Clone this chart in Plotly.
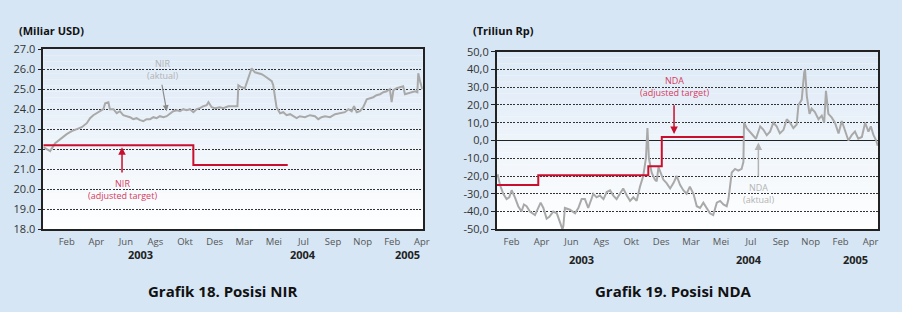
import plotly.graph_objects as go

FONT = "Open Sans, sans-serif"

month_labels = ["Feb", "Apr", "Jun", "Ags", "Okt", "Des", "Mar", "Mei", "Jul", "Sep", "Nop", "Feb", "Apr"]
year_labels = ["2003", "2004", "2005"]
nir_year_pos = [2.5, 8.0, 11.5]
nda_year_pos = [2.34, 7.94, 11.5]
nir_ticks = [18, 19, 20, 21, 22, 23, 24, 25, 26, 27]
nir_tick_text = ["18.0", "19.0", "20.0", "21.0", "22.0", "23.0", "24.0", "25.0", "26.0", "27.0"]
nda_ticks = [-50, -40, -30, -20, -10, 0, 10, 20, 30, 40, 50]
nda_tick_text = ["-50,0", "-40,0", "-30,0", "-20,0", "-10,0", "0,0", "10,0", "20,0", "30,0", "40,0", "50,0"]

# ---- NIR (Miliar USD) ----
nir_x = [-0.79, -0.68, -0.56, -0.39, -0.23, 0.00, 0.17, 0.34, 0.51, 0.68, 0.79, 0.90, 1.01, 1.13,
         1.24, 1.30, 1.41, 1.46, 1.58, 1.69, 1.80, 1.91, 2.03, 2.14, 2.25, 2.36, 2.48, 2.59, 2.70,
         2.82, 2.93, 3.04, 3.15, 3.27, 3.38, 3.49, 3.60, 3.72, 3.83, 3.94, 4.05, 4.17, 4.28, 4.39,
         4.50, 4.62, 4.73, 4.79, 4.90, 5.01, 5.18, 5.29, 5.46, 5.63, 5.77, 5.80, 5.91, 6.02, 6.10,
         6.19, 6.25, 6.36, 6.48, 6.59, 6.70, 6.81, 6.93, 6.98, 7.04, 7.09, 7.21, 7.32, 7.43, 7.55,
         7.66, 7.77, 7.88, 8.05, 8.22, 8.39, 8.50, 8.61, 8.73, 8.90, 9.07, 9.23, 9.40, 9.52, 9.63,
         9.71, 9.80, 9.91, 10.02, 10.14, 10.25, 10.36, 10.47, 10.59, 10.70, 10.81, 10.92, 10.98,
         11.04, 11.15, 11.26, 11.37, 11.43, 11.54, 11.66, 11.77, 11.85, 11.88, 11.94, 12.02]
nir_actual = [22.1, 22.0, 21.9, 22.3, 22.5, 22.75, 22.9, 23.0, 23.1, 23.3, 23.55, 23.7, 23.8, 23.9,
              24.0, 24.3, 24.35, 24.0, 24.0, 23.8, 23.9, 23.7, 23.65, 23.6, 23.5, 23.55, 23.45, 23.4,
              23.5, 23.5, 23.6, 23.55, 23.65, 23.6, 23.65, 23.8, 23.9, 23.95, 23.9, 24.0, 23.95, 24.0,
              23.85, 24.0, 24.05, 24.15, 24.2, 24.35, 24.1, 24.05, 24.1, 24.05, 24.15, 24.15, 24.15,
              25.2, 25.1, 25.05, 25.4, 25.8, 26.05, 25.85, 25.8, 25.75, 25.65, 25.55, 25.4, 25.2, 24.6,
              24.1, 23.8, 23.85, 23.7, 23.75, 23.65, 23.55, 23.65, 23.6, 23.7, 23.65, 23.5, 23.6, 23.65,
              23.6, 23.75, 23.8, 23.85, 24.0, 23.9, 24.15, 23.85, 23.9, 24.1, 24.5, 24.55, 24.6, 24.7,
              24.75, 24.85, 24.9, 25.0, 24.35, 24.95, 25.05, 25.1, 25.15, 24.75, 24.8, 24.85, 24.9,
              24.85, 25.8, 25.4, 25.0]
nir_target_x = [-0.79, 4.28, 4.28, 7.47]
nir_target = [22.2, 22.2, 21.2, 21.2]

# ---- NDA (Triliun Rp) ----
nda_x = [-0.47, -0.39, -0.28, -0.17, -0.08, 0.00, 0.11, 0.22, 0.33, 0.41, 0.50, 0.61, 0.78, 0.89,
         0.97, 1.06, 1.17, 1.26, 1.39, 1.51, 1.62, 1.70, 1.73, 1.78, 1.95, 2.12, 2.23, 2.34, 2.45,
         2.56, 2.73, 2.84, 2.95, 3.07, 3.18, 3.29, 3.40, 3.51, 3.62, 3.73, 3.85, 3.96, 4.07, 4.18,
         4.29, 4.40, 4.49, 4.54, 4.59, 4.68, 4.79, 4.85, 4.91, 4.98, 5.07, 5.18, 5.30, 5.41, 5.52,
         5.63, 5.74, 5.85, 5.96, 6.08, 6.19, 6.30, 6.41, 6.52, 6.63, 6.74, 6.86, 6.97, 7.08, 7.19,
         7.25, 7.36, 7.47, 7.58, 7.69, 7.75, 7.77, 7.86, 7.97, 8.08, 8.17, 8.31, 8.42, 8.53, 8.64,
         8.75, 8.86, 8.97, 9.09, 9.20, 9.31, 9.42, 9.53, 9.59, 9.70, 9.78, 9.81, 9.87, 9.96, 10.03,
         10.14, 10.26, 10.37, 10.45, 10.51, 10.59, 10.70, 10.81, 10.93, 11.04, 11.15, 11.26, 11.37,
         11.48, 11.59, 11.71, 11.82, 11.93, 12.01, 12.10, 12.19, 12.24]
nda_actual = [-19, -25, -30, -33, -32, -28, -32, -37, -40, -36, -37, -40, -42, -38,
              -35, -38, -44, -43, -40, -41, -46, -50, -48, -38, -39, -41, -38, -33, -33,
              -38, -30, -32, -31, -33, -29, -28, -31, -33, -30, -27, -31, -34, -32, -34,
              -26, -20, -10, 7, -10, -18, -22, -23, -15, -18, -22, -24, -27, -24, -20,
              -25, -28, -30, -26, -30, -37, -38, -35, -38, -41, -42, -35, -34, -36, -37,
              -33, -18, -16, -17, -16, -12, 10, 7, 5, 3, 1, 8, 6, 3, 5,
              10, 8, 4, 6, 12, 10, 7, 9, 20, 23, 38, 40, 25, 15, 18,
              16, 12, 14, 10, 28, 15, 13, 10, 4, 11, 5, 0, 3,
              5, 1, 2, 10, 5, 8, 3, 0, -3]
nda_target_x = [-0.5, 0.89, 0.89, 4.57, 4.57, 5.02, 5.02, 7.75]
nda_target = [-25, -25, -19.5, -19.5, -14.5, -14.5, 2, 2]

GRAY = "#a9a9a9"
RED = "#c8102e"
RED_TXT = "#d63a5e"
TXT_GRAY = "#b3b3b3"

fig = go.Figure()
fig.add_trace(go.Scatter(x=nir_x, y=nir_actual, mode="lines", line=dict(color=GRAY, width=2),
                         xaxis="x", yaxis="y", showlegend=False, hoverinfo="skip"))
fig.add_trace(go.Scatter(x=nir_target_x, y=nir_target, mode="lines", line=dict(color=RED, width=2),
                         xaxis="x", yaxis="y", showlegend=False, hoverinfo="skip"))
fig.add_trace(go.Scatter(x=nda_x, y=nda_actual, mode="lines", line=dict(color=GRAY, width=2),
                         xaxis="x2", yaxis="y2", showlegend=False, hoverinfo="skip"))
fig.add_trace(go.Scatter(x=nda_target_x, y=nda_target, mode="lines", line=dict(color=RED, width=2),
                         xaxis="x2", yaxis="y2", showlegend=False, hoverinfo="skip"))

W, H = 902, 312
xd1 = [43.3 / W, 422.7 / W]
yd1 = [1 - 229 / H, 1 - 49.3 / H]
xd2 = [496.7 / W, 878.3 / W]
yd2 = [1 - 229.3 / H, 1 - 51.7 / H]

axis_common = dict(showline=True, linecolor="#222222", linewidth=1.5, mirror=True, automargin=False)
tickfont_x = dict(family=FONT, size=9.5, color="#555555")
tickfont_y = dict(family=FONT, size=11, color="#333333")
GRIDDASH = "2px,1.3px"
GRIDCOLOR = "#333333"

fig.update_layout(
    template="none",
    width=W, height=H, margin=dict(l=0, r=0, t=0, b=0, autoexpand=False),
    paper_bgcolor="#d6e6f4", plot_bgcolor="#ffffff",
    xaxis=dict(domain=xd1, range=[-0.79, 12.03], tickvals=list(range(13)), ticktext=month_labels,
               showgrid=False, zeroline=False, ticks="", ticklabelstandoff=3, tickfont=tickfont_x,
               anchor="y", **axis_common),
    yaxis=dict(domain=yd1, range=[18, 27], tickvals=nir_ticks, ticktext=nir_tick_text, showgrid=True,
               gridcolor=GRIDCOLOR, griddash=GRIDDASH, gridwidth=1, zeroline=False,
               ticks="outside", ticklen=4, tickcolor="#222222", tickfont=tickfont_y, anchor="x", **axis_common),
    xaxis2=dict(domain=xd2, range=[-0.5, 12.26], tickvals=list(range(13)), ticktext=month_labels,
                showgrid=False, zeroline=False, ticks="", ticklabelstandoff=3, tickfont=tickfont_x,
                anchor="y2", **axis_common),
    yaxis2=dict(domain=yd2, range=[-50, 50], tickvals=nda_ticks, ticktext=nda_tick_text, showgrid=True,
                gridcolor=GRIDCOLOR, griddash=GRIDDASH, gridwidth=1, zeroline=True, zerolinecolor="#222222",
                zerolinewidth=1.2, ticks="outside", ticklen=4, tickcolor="#222222", tickfont=tickfont_y,
                anchor="x2", **axis_common),
)

# gradient backgrounds of plot areas
N = 30
for xr, yr in (("x domain", "y domain"), ("x2 domain", "y2 domain")):
    for i in range(N):
        t = (i + 0.5) / N
        r = int(round(255 + (220 - 255) * t))
        g = int(round(255 + (233 - 255) * t))
        b = int(round(255 + (246 - 255) * t))
        fig.add_shape(type="rect", xref=xr, yref=yr, x0=0, x1=1, y0=i / N, y1=(i + 1) / N,
                      fillcolor=f"rgb({r},{g},{b})", line=dict(width=0), layer="below")

ann = []
# unit labels
ann.append(dict(text="<b>(Miliar USD)</b>", x=17 / W, y=1 - 31 / H, xref="paper", yref="paper",
                xanchor="left", yanchor="middle", showarrow=False, font=dict(family=FONT, size=11, color="#111")))
ann.append(dict(text="<b>(Triliun Rp)</b>", x=471 / W, y=1 - 31 / H, xref="paper", yref="paper",
                xanchor="left", yanchor="middle", showarrow=False, font=dict(family=FONT, size=11, color="#111")))
# years
for lbl, xp in zip(year_labels, nir_year_pos):
    ann.append(dict(text=f"<b>{lbl}</b>", x=xp, y=1 - 254 / H, xref="x", yref="paper", showarrow=False,
                    xanchor="center", yanchor="middle", font=dict(family=FONT, size=11, color="#222")))
for lbl, xp in zip(year_labels, nda_year_pos):
    ann.append(dict(text=f"<b>{lbl}</b>", x=xp, y=1 - 259 / H, xref="x2", yref="paper", showarrow=False,
                    xanchor="center", yanchor="middle", font=dict(family=FONT, size=11, color="#222")))
# titles
ann.append(dict(text="<b>Grafik 18. Posisi NIR</b>", x=222 / W, y=1 - 291 / H, xref="paper", yref="paper",
                xanchor="center", yanchor="middle", showarrow=False, font=dict(family=FONT, size=15, color="#111")))
ann.append(dict(text="<b>Grafik 19. Posisi NDA</b>", x=673 / W, y=1 - 291 / H, xref="paper", yref="paper",
                xanchor="center", yanchor="middle", showarrow=False, font=dict(family=FONT, size=15, color="#111")))

small = dict(family=FONT, size=9)
# NIR aktual
ann.append(dict(text="NIR<br>(aktual)", x=3.25, y=26.0, xref="x", yref="y", showarrow=False,
                font=dict(color=TXT_GRAY, **small)))
ann.append(dict(text="", x=3.38, y=23.9, ax=3.21, ay=25.3, xref="x", yref="y", axref="x", ayref="y",
                showarrow=True, arrowhead=2, arrowsize=1, arrowwidth=1.2, arrowcolor="#8c8c8c"))
# NIR target
ann.append(dict(text="NIR<br>(adjusted target)", x=1.87, y=20.0, xref="x", yref="y", showarrow=False,
                font=dict(color=RED_TXT, **small)))
ann.append(dict(text="", x=1.87, y=22.1, ax=1.87, ay=20.75, xref="x", yref="y", axref="x", ayref="y",
                showarrow=True, arrowhead=2, arrowsize=1, arrowwidth=1.5, arrowcolor=RED))
# NDA target
ann.append(dict(text="NDA<br>(adjusted target)", x=5.43, y=30.3, xref="x2", yref="y2", showarrow=False,
                font=dict(color=RED_TXT, **small)))
ann.append(dict(text="", x=5.43, y=3.6, ax=5.43, ay=20.7, xref="x2", yref="y2", axref="x2", ayref="y2",
                showarrow=True, arrowhead=2, arrowsize=1, arrowwidth=1.5, arrowcolor=RED))
# NDA aktual
ann.append(dict(text="NDA<br>(aktual)", x=8.25, y=-30.0, xref="x2", yref="y2", showarrow=False,
                font=dict(color=TXT_GRAY, **small)))
ann.append(dict(text="", x=8.25, y=-1.1, ax=8.25, ay=-21.0, xref="x2", yref="y2", axref="x2", ayref="y2",
                showarrow=True, arrowhead=2, arrowsize=1, arrowwidth=1.5, arrowcolor=TXT_GRAY))

fig.update_layout(annotations=ann)
fig.write_html("out.html")
